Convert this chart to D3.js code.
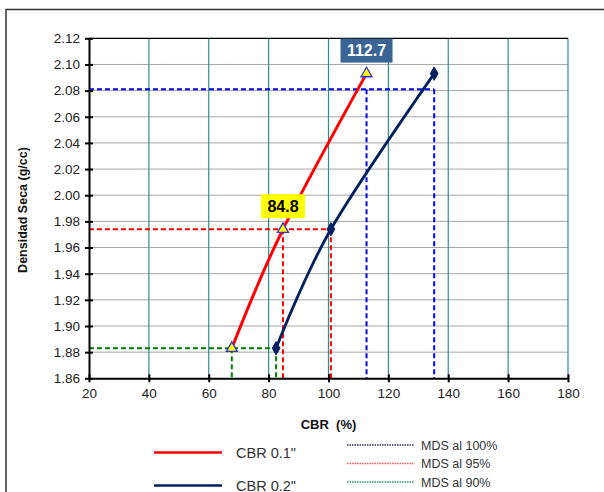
<!DOCTYPE html>
<html>
<head>
<meta charset="utf-8">
<script src="https://cdn.jsdelivr.net/npm/d3@7"></script>
<style>
  html, body { margin: 0; padding: 0; background: #fff; }
  svg { display: block; font-family: "Liberation Sans", Arial, sans-serif; }
</style>
</head>
<body>
<svg id="chart" width="604" height="492"></svg>
<script>
// Dry density of the three compaction specimens (g/cc)
const densities = [1.883, 1.974, 2.093];
// CBR at 0.1" and 0.2" penetration for each specimen (%)
const cbr01 = [67.7, 84.8, 112.7];
const cbr02 = [82.5, 100.8, 135.3];

// Maximum dry density levels and the CBR values read at each
const mdsNames = ["MDS al 100%", "MDS al 95%", "MDS al 90%"];
const mdsDensity = [2.081, 1.974, 1.883];
const mdsCbr01 = [112.7, 84.8, 67.7];
const mdsCbr02 = [135.3, 100.8, 82.5];
const mdsColors = ["#0000ff", "#ff0000", "#008000"];
const mdsLegendColors = ["#333366", "#ff5555", "#2a9a70"];

// Value callouts
const calloutValues = [112.7, 84.8];
const calloutDensity = [2.093, 1.974];

// Axis ticks
const xTicks = [20, 40, 60, 80, 100, 120, 140, 160, 180];
const yTicks = [1.86, 1.88, 1.90, 1.92, 1.94, 1.96, 1.98, 2.00, 2.02, 2.04, 2.06, 2.08, 2.10, 2.12];

const seriesNames = ['CBR 0.1"', 'CBR 0.2"'];
const seriesColors = ["#ff0000", "#002060"];

const svg = d3.select("#chart");

// outer frame
svg.append("rect")
  .attr("x", 6).attr("y", 9.5)
  .attr("width", 620).attr("height", 500)
  .attr("fill", "#fff").attr("stroke", "#333").attr("stroke-width", 1.5);

const plotL = 89, plotR = 568, plotT = 38.3, plotB = 378.3;
const x = d3.scaleLinear().domain([20, 180]).range([plotL, plotR]);
const y = d3.scaleLinear().domain([1.86, 2.12]).range([plotB, plotT]);

// horizontal grid
svg.append("g").selectAll("line").data(yTicks.slice(1, -1)).join("line")
  .attr("x1", plotL).attr("x2", plotR)
  .attr("y1", d => y(d)).attr("y2", d => y(d))
  .attr("stroke", "#a6a6a6").attr("stroke-width", 1);

// vertical grid
svg.append("g").selectAll("line").data(xTicks.slice(1)).join("line")
  .attr("x1", d => x(d)).attr("x2", d => x(d))
  .attr("y1", plotT).attr("y2", plotB)
  .attr("stroke", "#2f8f88").attr("stroke-width", 1.2);

// top border
svg.append("line").attr("x1", plotL).attr("x2", plotR)
  .attr("y1", plotT).attr("y2", plotT).attr("stroke", "#000").attr("stroke-width", 1.2);

// MDS reference lines
const ref = svg.append("g").attr("fill", "none").attr("stroke-width", 2).attr("stroke-dasharray", "5,3");
mdsDensity.forEach((d, i) => {
  ref.append("line")
    .attr("x1", x(20)).attr("x2", x(mdsCbr02[i]))
    .attr("y1", y(d)).attr("y2", y(d))
    .attr("stroke", mdsColors[i]);
  [mdsCbr01[i], mdsCbr02[i]].forEach(c => {
    ref.append("line")
      .attr("x1", x(c)).attr("x2", x(c))
      .attr("y1", y(d)).attr("y2", y(1.86))
      .attr("stroke", mdsColors[i]);
  });
});

// axes
const xAxis = svg.append("g").attr("transform", `translate(0,${plotB})`)
  .call(d3.axisBottom(x).tickValues(xTicks).tickSize(4).tickSizeOuter(0).tickFormat(d3.format("d")));
xAxis.select(".domain").attr("stroke", "#000").attr("stroke-width", 2);
xAxis.selectAll(".tick line").attr("stroke", "#000").attr("stroke-width", 2).attr("y1", -4).attr("y2", 4);
xAxis.selectAll(".tick text").attr("y", 10).attr("dy", "0.71em")
  .attr("font-size", 13.5).attr("fill", "#222").attr("font-family", "Liberation Sans, Arial, sans-serif");

const yAxis = svg.append("g").attr("transform", `translate(${plotL},0)`)
  .call(d3.axisLeft(y).tickValues(yTicks).tickSize(4).tickSizeOuter(0).tickFormat(d3.format(".2f")));
yAxis.select(".domain").attr("stroke", "#000").attr("stroke-width", 2);
yAxis.selectAll(".tick line").attr("stroke", "#000").attr("stroke-width", 2).attr("x1", -4).attr("x2", 4);
yAxis.selectAll(".tick text").attr("x", -9)
  .attr("font-size", 13.5).attr("fill", "#222").attr("font-family", "Liberation Sans, Arial, sans-serif");

// curves
const line = d3.line().curve(d3.curveCardinal.tension(0));
const s01 = cbr01.map((c, i) => [x(c), y(densities[i])]);
const s02 = cbr02.map((c, i) => [x(c), y(densities[i])]);
svg.append("path").attr("d", line(s02)).attr("fill", "none")
  .attr("stroke", seriesColors[1]).attr("stroke-width", 2.8);
svg.append("path").attr("d", line(s01)).attr("fill", "none")
  .attr("stroke", seriesColors[0]).attr("stroke-width", 3);

// markers
svg.append("g").selectAll("path").data(s02).join("path")
  .attr("d", d3.symbol(d3.symbolDiamond, 52)())
  .attr("transform", d => `translate(${d[0]},${d[1]})`)
  .attr("fill", "#002060").attr("stroke", "#002060").attr("stroke-width", 1);
svg.append("g").selectAll("path").data(s01).join("path")
  .attr("d", d3.symbol(d3.symbolTriangle, 52)())
  .attr("transform", d => `translate(${d[0]},${d[1]})`)
  .attr("fill", "#ffff00").attr("stroke", "#3333cc").attr("stroke-width", 1.3);

// callouts
const calloutStyle = [
  { fill: "#3b6496", text: "#fff", w: 52 },
  { fill: "#ffff00", text: "#000", w: 44 }
];
calloutValues.forEach((v, i) => {
  const cx = x(v), cy = y(calloutDensity[i]) - 11;
  const st = calloutStyle[i];
  svg.append("rect")
    .attr("x", cx - st.w / 2).attr("y", cy - 24)
    .attr("width", st.w).attr("height", 24)
    .attr("fill", st.fill);
  svg.append("text")
    .attr("x", cx).attr("y", cy - 6.5)
    .attr("text-anchor", "middle")
    .attr("font-size", 16).attr("font-weight", "bold")
    .attr("fill", st.text)
    .text(v.toFixed(1));
});

// axis titles
svg.append("text")
  .attr("x", (plotL + plotR) / 2).attr("y", 429)
  .attr("text-anchor", "middle").attr("font-size", 13).attr("font-weight", "bold")
  .attr("fill", "#111").attr("xml:space", "preserve")
  .text("CBR  (%)");
svg.append("text")
  .attr("transform", "translate(27,210) rotate(-90)")
  .attr("text-anchor", "middle").attr("font-size", 12.5).attr("font-weight", "bold")
  .attr("fill", "#111")
  .text("Densidad Seca (g/cc)");

// legend: series
const legY = [452.5, 485.5];
seriesNames.forEach((n, i) => {
  svg.append("line").attr("x1", 154).attr("x2", 222)
    .attr("y1", legY[i]).attr("y2", legY[i])
    .attr("stroke", seriesColors[i]).attr("stroke-width", 2.5);
  svg.append("text").attr("x", 236).attr("y", legY[i] + 5)
    .attr("font-size", 14.5).attr("fill", "#333").text(n);
});

// legend: MDS levels
const mdsLegY = [445, 463.5, 482];
mdsNames.forEach((n, i) => {
  svg.append("line").attr("x1", 347).attr("x2", 414)
    .attr("y1", mdsLegY[i]).attr("y2", mdsLegY[i])
    .attr("stroke", mdsLegendColors[i]).attr("stroke-width", 1.3)
    .attr("stroke-dasharray", "1.5,1");
  svg.append("text").attr("x", 421).attr("y", mdsLegY[i] + 4.5)
    .attr("font-size", 12.5).attr("fill", "#333").text(n);
});
</script>
</body>
</html>
